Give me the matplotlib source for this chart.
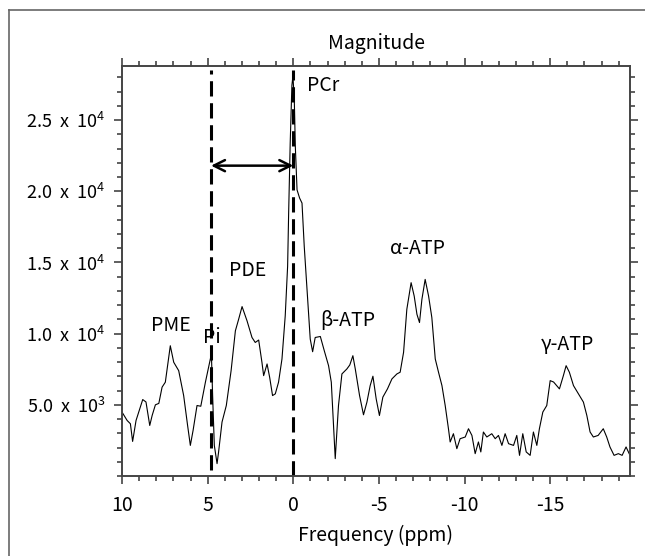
import matplotlib
matplotlib.use("Agg")
import matplotlib.pyplot as plt
from matplotlib.lines import Line2D
from matplotlib.ticker import MultipleLocator

plt.rcParams['font.family'] = ['Noto Sans CJK KR', 'DejaVu Sans']
plt.rcParams['mathtext.fontset'] = 'custom'
plt.rcParams['mathtext.rm'] = 'Noto Sans CJK KR'

# spectrum (ppm, magnitude)
ppm = [10.0, 9.70, 9.51, 9.38, 9.18, 8.79, 8.60, 8.38, 8.24, 8.05, 7.85, 7.66, 7.47,
       7.18, 6.98, 6.69, 6.40, 6.17, 6.01, 5.85, 5.62, 5.40, 5.13, 4.90, 4.78, 4.71,
       4.61, 4.45, 4.36, 4.16, 3.91, 3.63, 3.38, 3.19, 2.99, 2.70, 2.41, 2.22, 2.02,
       1.83, 1.73, 1.53, 1.38, 1.21, 1.05, 0.86, 0.66, 0.47, 0.33, 0.27, 0.18, 0.08,
       0.02, -0.06, -0.12, -0.22, -0.37, -0.51, -0.64, -0.80, -0.99, -1.13, -1.28,
       -1.58, -1.81, -2.06, -2.22, -2.45, -2.64, -2.84, -3.13, -3.30, -3.48, -3.62,
       -3.87, -4.10, -4.30, -4.49, -4.65, -4.84, -5.03, -5.23, -5.50, -5.76, -6.05,
       -6.24, -6.44, -6.63, -6.88, -7.06, -7.22, -7.37, -7.51, -7.70, -7.90, -8.09,
       -8.29, -8.48, -8.68, -8.87, -9.06, -9.16, -9.35, -9.55, -9.74, -10.04, -10.23,
       -10.43, -10.62, -10.81, -10.95, -11.10, -11.30, -11.59, -11.79, -11.98, -12.18,
       -12.37, -12.57, -12.86, -13.05, -13.21, -13.40, -13.60, -13.83, -14.02, -14.22,
       -14.37, -14.57, -14.80, -15.00, -15.20, -15.54, -15.77, -15.93, -16.12, -16.36,
       -16.65, -16.94, -17.14, -17.33, -17.52, -17.80, -18.10, -18.30, -18.49, -18.73,
       -18.98, -19.20, -19.43, -19.66]
magnitude = [4490, 3900, 3670, 2430, 3900, 5370, 5200, 3550, 4250, 5000, 5100, 6240, 6590,
             9150, 7990, 7400, 5650, 3550, 2150, 3200, 4950, 4900, 6590, 7910, 8570, 5650,
             2150, 870, 1690, 3790, 4950, 7400, 10200, 11010, 11900, 10900, 9730, 9380, 9550,
             7990, 7050, 7870, 6940, 5650, 5770, 6590, 8220, 11250, 14740, 18480, 23370, 27450,
             28080, 26400, 23130, 20100, 19520, 19170, 16140, 13110, 9620, 8730, 9730,
             9800, 8800, 7750, 6590, 1220, 4950, 7170, 7520, 7800, 8450, 7520,
             5650, 4300, 5190, 6350, 7010, 5420, 4250, 5540, 6120, 6820, 7170,
             7290, 8690, 11710, 13580, 12640, 11360, 10780, 12410, 13810, 12640, 11130,
             8220, 7290, 6350, 4950, 3320, 2390, 2970, 1920, 2620, 2740, 3320,
             2850, 1570, 2390, 1690, 3090, 2740, 2970, 2620, 2850, 2150,
             2970, 2270, 2150, 2850, 1450, 2970, 1690, 1450, 3090, 2150,
             3320, 4490, 4950, 6700, 6600, 6120, 7050, 7750, 7290, 6350,
             5770, 5190, 4250, 3090, 2740, 2850, 3320, 2740, 2040, 1450,
             1570, 1450, 2040, 1450]

# peak annotations
peak_names = ['PME', 'Pi', 'PDE', 'PCr', 'β-ATP', 'α-ATP', 'γ-ATP']
peak_x = [7.12, 4.78, 2.68, -1.75, -3.2, -7.23, -16.04]
peak_y = [10600, 9750, 14450, 27400, 10950, 15980, 9270]

x_ticks = [10, 5, 0, -5, -10, -15]
y_ticks = [5000, 10000, 15000, 20000, 25000]
y_tick_labels = ['5.0  x  10$^{3}$', '1.0  x  10$^{4}$', '1.5  x  10$^{4}$',
                 '2.0  x  10$^{4}$', '2.5  x  10$^{4}$']

pi_shift = 4.8
pcr_shift = 0.0
arrow_y = 21800

fig = plt.figure(figsize=(6.45, 5.56), dpi=100)
ax = fig.add_axes([122 / 645, 1 - 476 / 556, 508 / 645, 410 / 556])

ax.plot(ppm, magnitude, color='black', lw=0.8)

ax.axvline(pi_shift, ymin=0.015, ymax=0.99, color='black', lw=2.2, ls=(0, (5, 2.2)))
ax.axvline(pcr_shift, ymin=0.0, ymax=0.99, color='black', lw=2.2, ls=(0, (5, 2.2)))
ax.annotate('', xy=(pcr_shift, arrow_y), xytext=(pi_shift, arrow_y),
            arrowprops=dict(arrowstyle='<->', lw=1.8, color='black',
                            shrinkA=0, shrinkB=0, mutation_scale=20))

for name, x, y in zip(peak_names, peak_x, peak_y):
    ax.text(x, y, name, ha='center', va='center', fontsize=14)

ax.set_xlim(10, -19.66)
ax.set_ylim(0, 28800)

ax.set_xticks(x_ticks)
ax.set_xticklabels([str(t) for t in x_ticks])
ax.set_yticks(y_ticks)
ax.set_yticklabels(y_tick_labels)
ax.xaxis.set_minor_locator(MultipleLocator(1))
ax.yaxis.set_minor_locator(MultipleLocator(1000))

ax.tick_params(which='both', direction='out', top=True, right=True,
               color='#444444', width=1.2, pad=6)
ax.tick_params(axis='x', labelsize=14, pad=8)
ax.tick_params(axis='y', labelsize=13)
ax.tick_params(which='major', length=6)
ax.tick_params(which='minor', length=3.5)
for sp in ax.spines.values():
    sp.set_linewidth(1.4)
    sp.set_color('#444444')

ax.set_xlabel('Frequency (ppm)', fontsize=14, labelpad=6)
ax.set_title('Magnitude', fontsize=14, pad=12)

# partial outer frame of the panel
fig.add_artist(Line2D([9 / 645, 9 / 645], [0, 1 - 10 / 556], color='#666666', lw=1.2))
fig.add_artist(Line2D([9 / 645, 1], [1 - 10 / 556, 1 - 10 / 556], color='#666666', lw=1.2))

fig.savefig('out.png', dpi=100)
